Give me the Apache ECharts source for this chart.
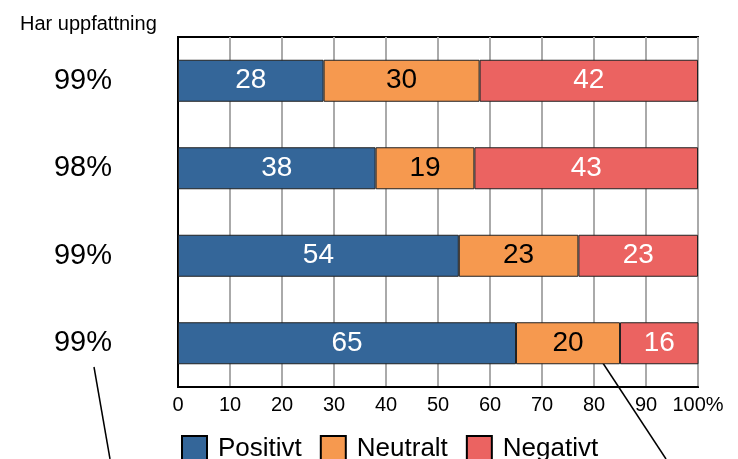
<!DOCTYPE html>
<html>
<head>
<meta charset="utf-8">
<script src="https://cdn.jsdelivr.net/npm/echarts@6/dist/echarts.min.js"></script>
<style>
  html, body { margin: 0; padding: 0; background: #fff; }
  #main { width: 738px; height: 459px; }
</style>
</head>
<body>
<div id="main"></div>
<script>
var categories = ['99%', '98%', '99%', '99%'];
var positivt = [28, 38, 54, 65];
var neutralt = [30, 19, 23, 20];
var negativt = [42, 43, 23, 16];
var xTicks = [0, 10, 20, 30, 40, 50, 60, 70, 80, 90, 100];

var myChart = echarts.init(document.getElementById('main'));
var font = 'Liberation Sans, Arial, sans-serif';

function barSeries(name, data, color, textColor) {
    return {
        name: name,
        type: 'bar',
        stack: 'total',
        barWidth: 42,
        data: data,
        itemStyle: { color: color, borderColor: '#222', borderWidth: 1 },
        label: {
            show: true,
            position: 'inside',
            color: textColor,
            fontSize: 28,
            fontFamily: font
        }
    };
}

option = {
    animation: false,
    textStyle: { fontFamily: font },
    title: {
        text: 'Har uppfattning',
        left: 15,
        top: 9,
        textStyle: { fontSize: 20, fontWeight: 'normal', color: '#000', fontFamily: font }
    },
    legend: {
        data: ['Positivt', 'Neutralt', 'Negativt'],
        left: 176,
        top: 430,
        icon: 'rect',
        itemWidth: 25,
        itemHeight: 25,
        itemGap: 18,
        itemStyle: { borderColor: '#000', borderWidth: 2 },
        textStyle: { fontSize: 26, color: '#000', fontFamily: font, padding: [0, 0, 0, 6] }
    },
    grid: {
        left: 178,
        right: 40,
        top: 37,
        bottom: 72,
        show: true,
        borderColor: '#000',
        borderWidth: 2
    },
    xAxis: {
        type: 'value',
        min: 0,
        max: 100,
        interval: 10,
        axisLine: { show: true, lineStyle: { color: '#000', width: 2 } },
        axisTick: { show: false },
        splitLine: { show: true, lineStyle: { color: '#aaaaaa', width: 2 } },
        axisLabel: {
            color: '#000',
            fontSize: 20,
            margin: 8,
            fontFamily: font,
            formatter: function (v) {
                return xTicks.indexOf(v) === xTicks.length - 1 ? v + '%' : String(v);
            }
        }
    },
    yAxis: {
        type: 'category',
        inverse: true,
        data: categories,
        axisLine: { show: true, lineStyle: { color: '#000', width: 2 } },
        axisTick: { show: false },
        axisLabel: { color: '#000', fontSize: 29, margin: 66, fontFamily: font }
    },
    series: [
        barSeries('Positivt', positivt, '#346699', '#fff'),
        barSeries('Neutralt', neutralt, '#f6994f', '#000'),
        barSeries('Negativt', negativt, '#eb6361', '#fff')
    ],
    graphic: [
        { type: 'line', shape: { x1: 94, y1: 367, x2: 110, y2: 459 }, style: { stroke: '#000', lineWidth: 1.5 } },
        { type: 'line', shape: { x1: 593, y1: 348, x2: 666, y2: 459 }, style: { stroke: '#000', lineWidth: 1.5 } }
    ]
};

myChart.setOption(option);
</script>
</body>
</html>
